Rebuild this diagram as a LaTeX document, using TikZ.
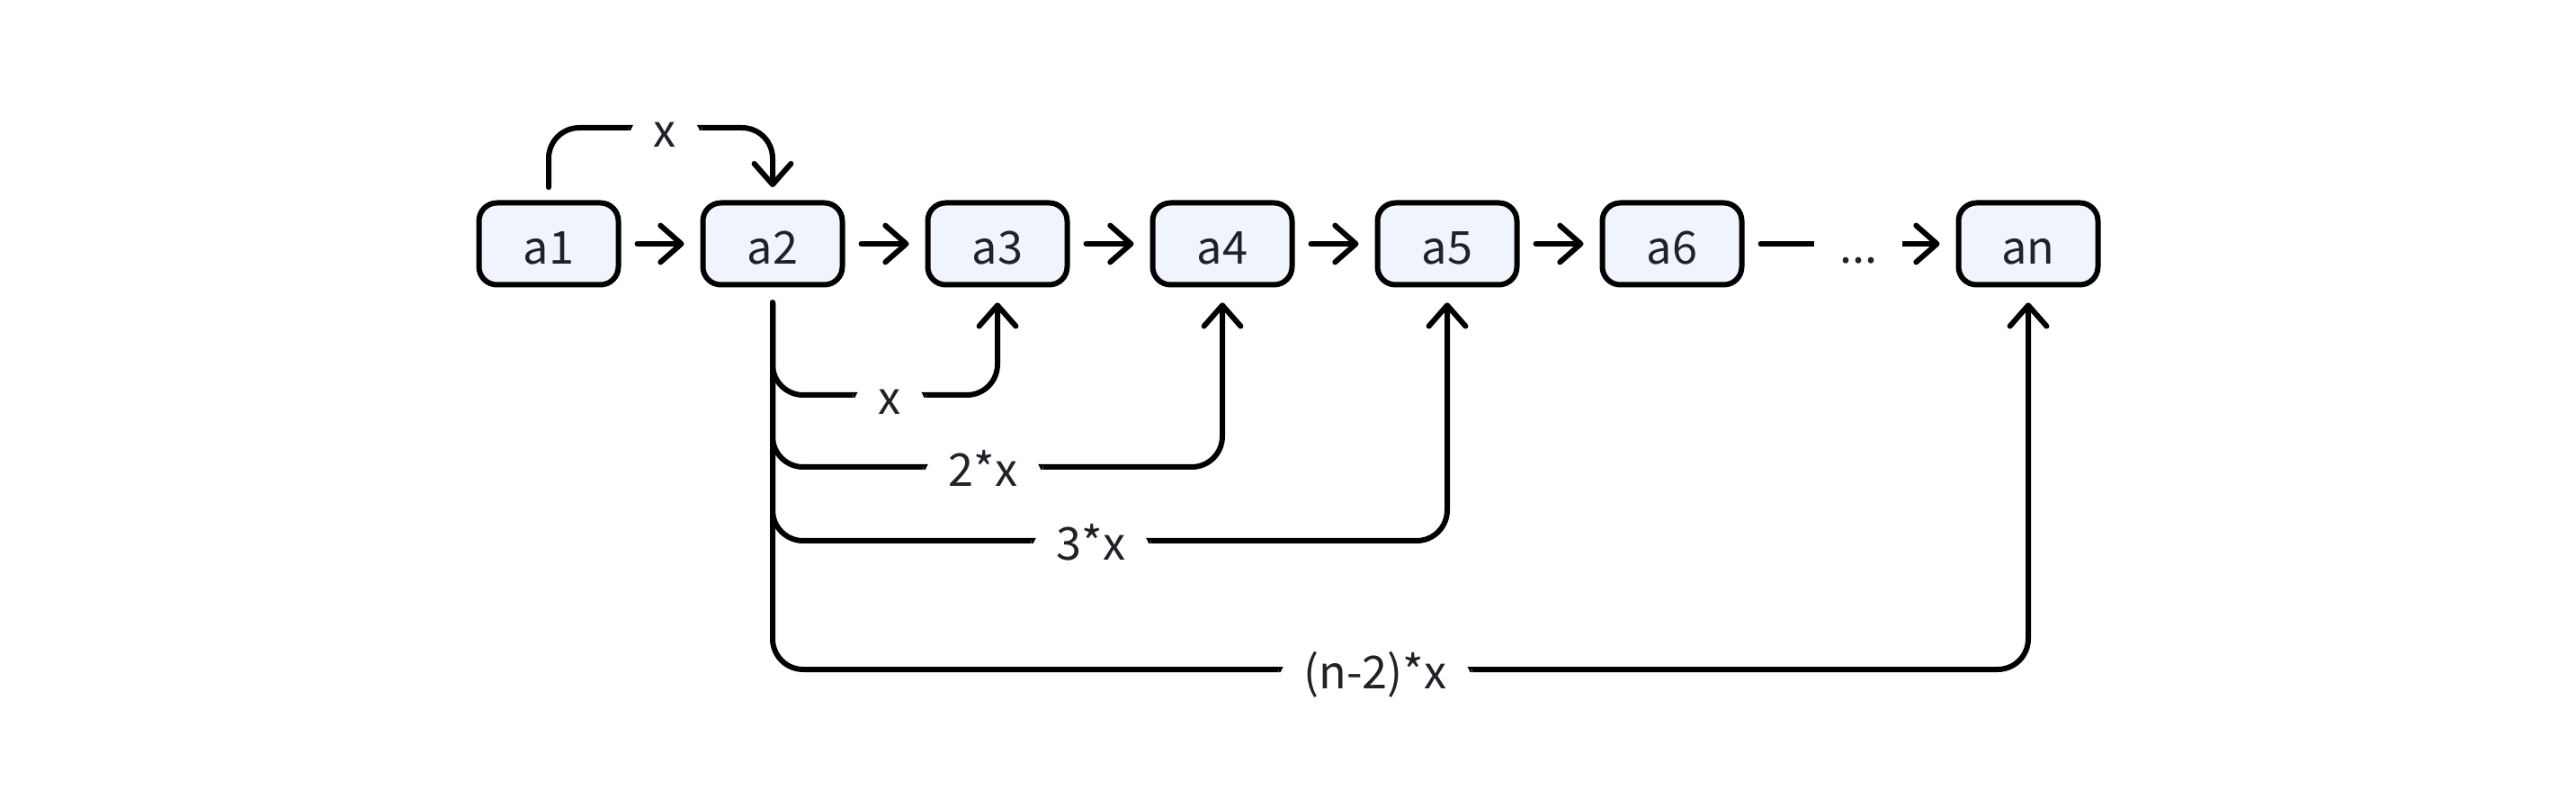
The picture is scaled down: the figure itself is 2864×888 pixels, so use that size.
\documentclass[tikz,border=0pt]{standalone}
\usepackage{fontspec}
\setmainfont{Noto Sans CJK SC}
\usetikzlibrary{arrows.meta}
\definecolor{boxfill}{RGB}{239,244,253}
\definecolor{txt}{RGB}{31,35,41}
\begin{document}
\begin{tikzpicture}[x=0.25pt,y=-0.25pt,
  every node/.style={font=\fontsize{12.6pt}{15pt}\selectfont, text=txt},
  box/.style={draw=black, line width=1.5pt, fill=boxfill, rounded corners=5pt,
    minimum width=38.75pt, minimum height=22.75pt, inner sep=0pt,
    text height=12pt, text depth=0.5pt},
  conn/.style={line width=1.5pt, line cap=round, line join=round,
    -{Straight Barb[length=5.8pt,width=10.2pt,round]}},
  lbl/.style={fill=white, inner xsep=7pt, inner ysep=0pt,
    text height=10pt, text depth=3pt, anchor=base, yshift=-5.3pt},
  rc/.style={rounded corners=8.5pt}
]
\useasboundingbox (0,0) rectangle (2864,888);
\fill[white] (0,0) rectangle (2864,888);

\node[box] (a1) at (610,271) {a1};
\node[box] (a2) at (859,271) {a2};
\node[box] (a3) at (1109,271) {a3};
\node[box] (a4) at (1359,271) {a4};
\node[box] (a5) at (1609,271) {a5};
\node[box] (a6) at (1859,271) {a6};
\node[box] (an) at (2255,271) {an};

% horizontal arrows
\foreach \u/\v in {a1/a2,a2/a3,a3/a4,a4/a5,a5/a6}{
  \draw[conn, shorten <=4.5pt, shorten >=4.5pt] (\u.east) -- (\v.west);
}
\draw[conn, shorten <=4.5pt, shorten >=4.5pt] (a6.east) -- node[lbl, pos=0.54]{...} (an.west);

% top arrow a1 -> a2
\coordinate (ty) at (0,142);
\draw[conn, rc, shorten <=3.6pt, shorten >=3.6pt] (a1.north) -- (a1.north |- ty)
  -- node[lbl, pos=0.52]{x} (a2.north |- ty) -- (a2.north);

% bottom branches
\coordinate (b1) at (0,439);
\coordinate (b2) at (0,519);
\coordinate (b3) at (0,601);
\coordinate (b4) at (0,744);
\draw[conn, rc, shorten <=4.2pt, shorten >=4.2pt] (a2.south) -- (a2.south |- b1)
  -- node[lbl, pos=0.52]{x} (a3.south |- b1) -- (a3.south);
\draw[conn, rc, shorten <=4.2pt, shorten >=4.2pt] (a2.south) -- (a2.south |- b2)
  -- node[lbl, pos=0.468]{2*x} (a4.south |- b2) -- (a4.south);
\draw[conn, rc, shorten <=4.2pt, shorten >=4.2pt] (a2.south) -- (a2.south |- b3)
  -- node[lbl, pos=0.472]{3*x} (a5.south |- b3) -- (a5.south);
\draw[conn, rc, shorten <=4.2pt, shorten >=4.2pt] (a2.south) -- (a2.south |- b4)
  -- node[lbl, pos=0.48]{(n-2)*x} (an.south |- b4) -- (an.south);
\end{tikzpicture}
\end{document}
